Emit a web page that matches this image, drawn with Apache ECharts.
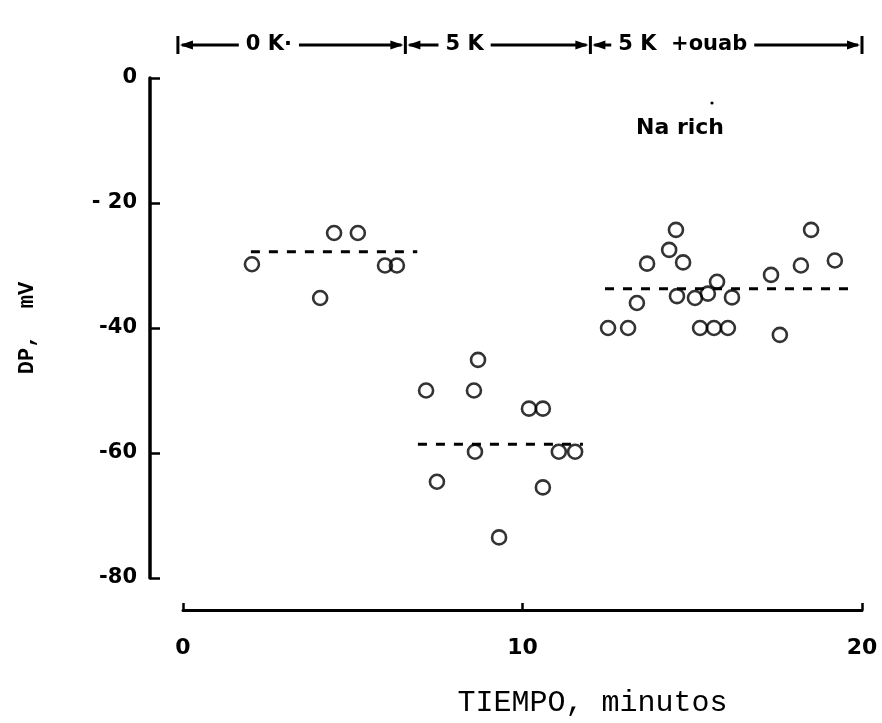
<!DOCTYPE html>
<html>
<head>
<meta charset="utf-8">
<script src="https://cdn.jsdelivr.net/npm/echarts@6/dist/echarts.min.js"></script>
<style>
html,body{margin:0;padding:0;background:#fff;}
#chart{width:882px;height:723px;}
</style>
</head>
<body>
<div id="chart"></div>
<script>
// ---- data ----
const xTickValues = [0, 10, 20];
const yTickValues = [0, -20, -40, -60, -80];
const yTickLabels = ['0', '- 20', '-40', '-60', '-80'];

const k0X = [2.03, 4.45, 5.15, 4.04, 5.95, 6.30];
const k0Y = [-29.8, -24.8, -24.8, -35.2, -30.0, -30.0];

const k5X = [8.69, 7.16, 8.57, 10.19, 10.60, 8.60, 11.07, 11.55, 7.48, 10.60, 9.31];
const k5Y = [-45.1, -50.0, -50.0, -52.9, -52.9, -59.8, -59.8, -59.8, -64.6, -65.5, -73.5];

const ouabX = [14.52, 18.50, 14.32, 13.67, 14.73, 19.20, 18.20, 17.32, 15.73, 13.37,
               14.55, 15.08, 15.46, 16.17, 12.52, 13.11, 15.23, 15.64, 16.05, 17.58];
const ouabY = [-24.3, -24.3, -27.5, -29.7, -29.5, -29.2, -30.0, -31.5, -32.6, -36.0,
               -34.9, -35.2, -34.5, -35.1, -40.0, -40.0, -40.0, -40.0, -40.0, -41.1];

const meanStart = [2.0, 6.92, 12.43];
const meanEnd = [6.9, 11.78, 19.65];
const meanValue = [-27.8, -58.6, -33.7];

const periodBounds = [-0.15, 6.55, 12.0, 20.0];
const periodLabels = ['0 K\u00B7', '5 K', '5 K  +ouab'];
const annotation = 'Na rich';
const xName = 'TIEMPO, minutos';
const yName = 'DP,  mV';

// ---- chart ----
const chart = echarts.init(document.getElementById('chart'), null, {renderer: 'canvas'});
const sans = '"DejaVu Sans", sans-serif';
const mono = '"Liberation Mono", "DejaVu Sans Mono", monospace';

function pts(xs, ys) { return xs.map((x, i) => [x, ys[i]]); }

const scatterStyle = {
  type: 'scatter',
  symbol: 'circle',
  symbolSize: 14,
  itemStyle: {color: 'rgba(0,0,0,0)', borderColor: '#000', borderWidth: 2.6},
  emphasis: {disabled: true},
  z: 3
};

const series = [];
meanValue.forEach((v, i) => {
  series.push({
    type: 'line',
    data: [[meanStart[i], v], [meanEnd[i], v]],
    symbol: 'none',
    lineStyle: {color: '#000', width: 3, type: [9, 9]},
    emphasis: {disabled: true},
    z: 2
  });
});
series.push(Object.assign({data: pts(k0X, k0Y)}, scatterStyle));
series.push(Object.assign({data: pts(k5X, k5Y)}, scatterStyle));
series.push(Object.assign({data: pts(ouabX, ouabY)}, scatterStyle));

chart.setOption({
  animation: false,
  backgroundColor: '#fff',
  grid: {left: 183, right: 20, top: 78, bottom: 125},
  xAxis: {
    type: 'value', min: 0, max: 20, interval: 10,
    offset: 32,
    axisLine: {show: true, onZero: false, lineStyle: {color: '#000', width: 3}},
    axisTick: {show: true, inside: true, length: 7, lineStyle: {color: '#000', width: 2.5}},
    axisLabel: {
      color: '#000', fontSize: 22, fontWeight: 'bold', fontFamily: sans, margin: 27,
      formatter: v => xTickValues.includes(v) ? String(v) : ''
    },
    splitLine: {show: false},
    name: xName, nameLocation: 'middle', nameGap: 78,
    nameTextStyle: {color: '#000', fontSize: 30, fontFamily: mono, padding: [0, 0, 0, 140]}
  },
  yAxis: {
    type: 'value', min: -80, max: 0, interval: 20,
    offset: 33,
    axisLine: {show: true, onZero: false, lineStyle: {color: '#000', width: 3.5}},
    axisTick: {show: true, inside: true, length: 10, lineStyle: {color: '#000', width: 2.5}},
    axisLabel: {
      color: '#000', fontSize: 21, fontWeight: 'bold', fontFamily: sans, margin: 13,
      formatter: v => { const i = yTickValues.indexOf(v); return i >= 0 ? yTickLabels[i] : ''; }
    },
    splitLine: {show: false},
    name: yName, nameLocation: 'middle', nameGap: 112,
    nameTextStyle: {color: '#000', fontSize: 22, fontWeight: 'bold', fontFamily: mono}
  },
  series: series
});

// ---- header (period bars with arrows) ----
const hy = 45;
const graphics = [];
const px = periodBounds.map(t => chart.convertToPixel({xAxisIndex: 0}, t));
const labelFrac = [0.40, 0.32, 0.34];
for (let i = 0; i < periodLabels.length; i++) {
  const a = px[i], b = px[i + 1];
  graphics.push({type: 'line', shape: {x1: a + 4, y1: hy, x2: b - 4, y2: hy},
    style: {stroke: '#000', lineWidth: 3}, z: 10});
  graphics.push({type: 'polygon', shape: {points: [[a + 2, hy], [a + 15, hy - 4.5], [a + 15, hy + 4.5]]},
    style: {fill: '#000'}, z: 11});
  graphics.push({type: 'polygon', shape: {points: [[b - 2, hy], [b - 15, hy - 4.5], [b - 15, hy + 4.5]]},
    style: {fill: '#000'}, z: 11});
  graphics.push({type: 'text', x: a + (b - a) * labelFrac[i], y: hy,
    style: {text: periodLabels[i], fill: '#000', font: 'bold 21px ' + sans, align: 'center',
      verticalAlign: 'middle', backgroundColor: '#fff', padding: [0, 7]}, z: 12});
}
px.forEach(x => {
  graphics.push({type: 'line', shape: {x1: x, y1: hy - 9, x2: x, y2: hy + 9},
    style: {stroke: '#000', lineWidth: 3}, z: 11});
});
graphics.push({type: 'text', x: 636, y: 128,
  style: {text: annotation, fill: '#000', font: 'bold 22px ' + sans, verticalAlign: 'middle'}, z: 10});
graphics.push({type: 'circle', shape: {cx: 712, cy: 103, r: 1.6}, style: {fill: '#000'}, z: 10});

chart.setOption({graphic: graphics});
</script>
</body>
</html>
